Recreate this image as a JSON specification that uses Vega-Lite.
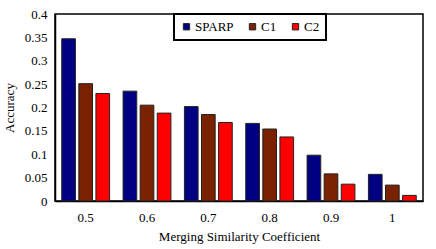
{
  "$schema": "https://vega.github.io/schema/vega-lite/v6.json",
  "width": 368,
  "height": 187,
  "autosize": {"type": "none"},
  "padding": {"left": 55, "top": 14, "right": 13, "bottom": 48},
  "background": "white",
  "config": {
    "font": "Times New Roman, Liberation Serif, serif",
    "view": {"stroke": "black", "strokeWidth": 1.5}
  },
  "data": {
    "values": [
      {"coef": "0.5", "method": "SPARP", "acc": 0.347},
      {"coef": "0.5", "method": "C1", "acc": 0.251},
      {"coef": "0.5", "method": "C2", "acc": 0.230},
      {"coef": "0.6", "method": "SPARP", "acc": 0.235},
      {"coef": "0.6", "method": "C1", "acc": 0.205},
      {"coef": "0.6", "method": "C2", "acc": 0.188},
      {"coef": "0.7", "method": "SPARP", "acc": 0.202},
      {"coef": "0.7", "method": "C1", "acc": 0.185},
      {"coef": "0.7", "method": "C2", "acc": 0.168},
      {"coef": "0.8", "method": "SPARP", "acc": 0.166},
      {"coef": "0.8", "method": "C1", "acc": 0.154},
      {"coef": "0.8", "method": "C2", "acc": 0.137},
      {"coef": "0.9", "method": "SPARP", "acc": 0.098},
      {"coef": "0.9", "method": "C1", "acc": 0.058},
      {"coef": "0.9", "method": "C2", "acc": 0.036},
      {"coef": "1", "method": "SPARP", "acc": 0.057},
      {"coef": "1", "method": "C1", "acc": 0.034},
      {"coef": "1", "method": "C2", "acc": 0.012}
    ]
  },
  "mark": {"type": "bar", "stroke": "#222222", "strokeWidth": 1},
  "encoding": {
    "x": {
      "field": "coef",
      "type": "ordinal",
      "sort": null,
      "scale": {"paddingInner": 0.22, "paddingOuter": 0.11},
      "axis": {
        "title": "Merging Similarity Coefficient",
        "labelAngle": 0,
        "ticks": false,
        "domain": true,
        "domainColor": "black",
        "domainWidth": 1.5,
        "labelFont": "Times New Roman, Liberation Serif, serif",
        "labelFontSize": 13,
        "labelColor": "black",
        "labelPadding": 10,
        "titleFont": "Times New Roman, Liberation Serif, serif",
        "titleFontSize": 13,
        "titleFontWeight": "normal",
        "titleColor": "black",
        "titlePadding": 6
      }
    },
    "xOffset": {
      "field": "method",
      "type": "nominal",
      "sort": ["SPARP", "C1", "C2"],
      "scale": {"paddingInner": 0.2}
    },
    "y": {
      "field": "acc",
      "type": "quantitative",
      "scale": {"domain": [0, 0.4], "nice": false},
      "axis": {
        "title": "Accuracy",
        "values": [0, 0.05, 0.1, 0.15, 0.2, 0.25, 0.3, 0.35, 0.4],
        "format": "~g",
        "ticks": false,
        "grid": false,
        "domainColor": "black",
        "domainWidth": 1.5,
        "labelFont": "Times New Roman, Liberation Serif, serif",
        "labelFontSize": 13,
        "labelColor": "black",
        "labelPadding": 8,
        "titleFont": "Times New Roman, Liberation Serif, serif",
        "titleFontSize": 13,
        "titleFontWeight": "normal",
        "titleColor": "black",
        "titlePadding": 8
      }
    },
    "color": {
      "field": "method",
      "type": "nominal",
      "sort": ["SPARP", "C1", "C2"],
      "scale": {"domain": ["SPARP", "C1", "C2"], "range": ["#000080", "#7a2200", "#ff0000"]},
      "legend": {
        "title": null,
        "orient": "none",
        "direction": "horizontal",
        "legendX": 119,
        "legendY": 0,
        "strokeColor": "black",
        "fillColor": "white",
        "padding": 6,
        "symbolType": "square",
        "symbolSize": 40,
        "symbolStrokeColor": "#222222",
        "symbolStrokeWidth": 1,
        "labelFont": "Times New Roman, Liberation Serif, serif",
        "labelFontSize": 13,
        "labelColor": "black",
        "labelOffset": 2,
        "columnPadding": 12,
        "encode": {"legend": {"update": {"strokeWidth": {"value": 2}}}}
      }
    }
  }
}
